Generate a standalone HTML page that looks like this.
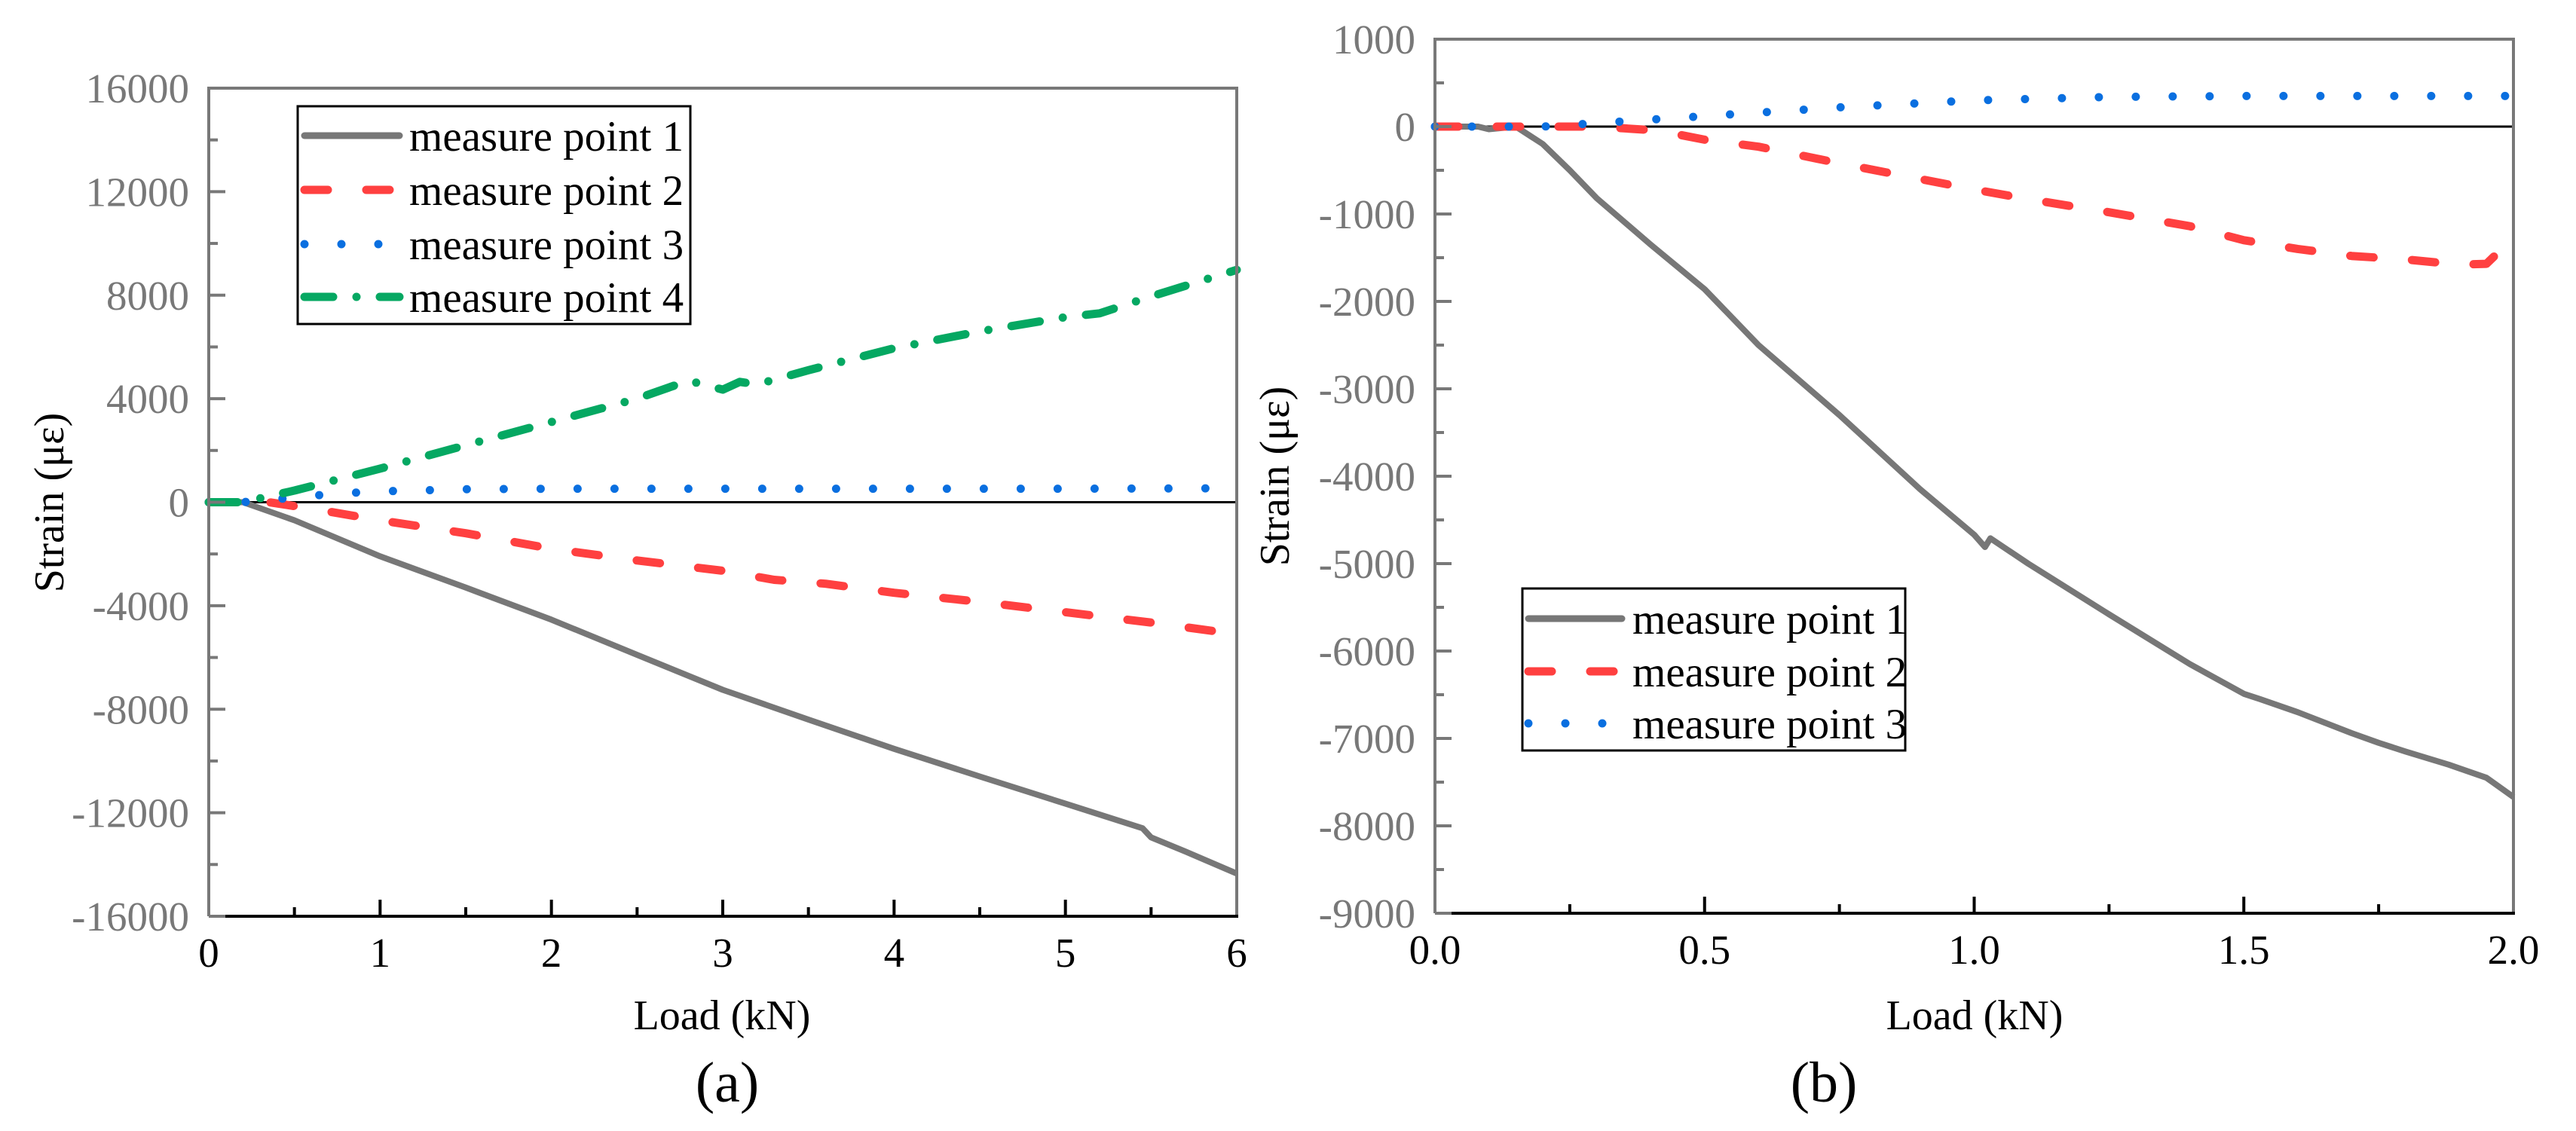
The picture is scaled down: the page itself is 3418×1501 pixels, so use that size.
<!DOCTYPE html>
<html><head><meta charset="utf-8"><style>
html,body{margin:0;padding:0;background:#fff;}
svg{display:block;}
svg text{font-family:"Liberation Serif","DejaVu Serif",serif;}
</style></head><body>
<svg id="chart" width="3418" height="1501" viewBox="0 0 3418 1501" font-family="'Liberation Serif', 'DejaVu Serif', serif" xmlns="http://www.w3.org/2000/svg"></svg>
<script>
// Panel (a) data
const aTicksX = [0,1,2,3,4,5,6];
const aTicksY = [16000,12000,8000,4000,0,-4000,-8000,-12000,-16000];
const aS1x = [0,0.2,0.5,1,1.5,2,2.5,3,3.5,4,4.5,5,5.45,5.5,5.7,6];
const aS1y = [0,0,-700,-2090,-3300,-4540,-5900,-7250,-8400,-9530,-10600,-11650,-12600,-12950,-13500,-14350];
const aS2x = [0,0.35,0.6,1,1.5,2,2.5,3,3.3,3.6,4,4.5,5,5.5,6];
const aS2y = [0,0,-250,-700,-1200,-1800,-2250,-2650,-3000,-3150,-3500,-3850,-4250,-4650,-5100];
const aS3x = [0,0.2,0.4,0.6,0.8,1,1.5,2,3,4,5,6];
const aS3y = [0,0,120,250,350,420,500,520,520,520,520,540];
const aS4x = [0,0.2,0.5,1,1.5,2,2.5,2.8,3,3.1,3.2,3.5,4,4.5,5,5.2,5.5,6];
const aS4y = [0,0,450,1300,2200,3100,4000,4700,4350,4650,4550,5100,5950,6600,7150,7300,7950,8980];
// Panel (b) data
const bTicksX = [0,0.5,1,1.5,2];
const bTickLabelsX = ["0.0","0.5","1.0","1.5","2.0"];
const bTicksY = [1000,0,-1000,-2000,-3000,-4000,-5000,-6000,-7000,-8000,-9000];
const bS1x = [0,0.08,0.1,0.15,0.2,0.25,0.3,0.4,0.5,0.6,0.75,0.9,1.0,1.02,1.03,1.1,1.25,1.4,1.5,1.53,1.6,1.7,1.75,1.8,1.88,1.95,2.0];
const bS1y = [0,0,-30,0,-200,-500,-820,-1350,-1860,-2500,-3300,-4150,-4670,-4810,-4710,-5000,-5580,-6150,-6490,-6550,-6700,-6940,-7050,-7150,-7300,-7450,-7670];
const bS2x = [0,0.3,0.35,0.4,0.45,0.5,0.6,0.75,0.9,1.0,1.1,1.25,1.4,1.5,1.6,1.7,1.8,1.9,1.95,1.97,2.0];
const bS2y = [0,0,-20,-40,-90,-150,-230,-420,-600,-720,-830,-980,-1140,-1300,-1400,-1480,-1520,-1580,-1570,-1450,-1420];
const bS3x = [0,0.2,0.3,0.5,0.75,1.0,1.25,1.5,2.0];
const bS3y = [0,0,40,120,220,300,340,350,350];

const NS = "http://www.w3.org/2000/svg";
const FONT = "'Liberation Serif', 'DejaVu Serif', serif";
const svg = document.getElementById('chart');
function el(tag, attrs, parent, text){
  const e = document.createElementNS(NS, tag);
  for (const k in attrs) e.setAttribute(k, attrs[k]);
  if (tag === 'text') e.setAttribute('font-family', FONT);
  if (text !== undefined) e.textContent = text;
  (parent || svg).appendChild(e);
  return e;
}
const GRAY = "#787878";
const styles = {
  s1:{stroke:"#777777", w:8, dash:null},
  s2:{stroke:"#ff4040", w:11, dash:"31 51"},
  s3:{stroke:"#0a6fe0", w:11, dash:"0 49"},
  s4:{stroke:"#05a862", w:11, dash:"38 31 0 31"}
};

function panel(cfg){
  const g = el('g', {});
  
  
  const sx = v => cfg.x0 + (v - cfg.xmin) / (cfg.xmax - cfg.xmin) * (cfg.x1 - cfg.x0);
  const sy = v => cfg.y1 - (v - cfg.ymin) / (cfg.ymax - cfg.ymin) * (cfg.y1 - cfg.y0);
  const z = el('line', {x1:cfg.x0, x2:cfg.x1, y1:sy(0), y2:sy(0), stroke:"#000", 'stroke-width':3}, g);
  
  
  cfg.series.forEach((s, i) => {
    const st = styles[s.style];
    const d = s.x.map((v, j) => (j ? 'L' : 'M') + sx(v).toFixed(1) + ',' + sy(s.y[j]).toFixed(1)).join('');
    const p = el('path', {d, fill:'none', stroke:st.stroke, 'stroke-width':st.w, 'stroke-linecap': st.dash ? 'round' : 'butt', 'stroke-linejoin':'round'}, g);
    if (st.dash) p.setAttribute('stroke-dasharray', st.dash);
    
    
  });
  const fr = el('path', {d:`M${cfg.x0},${cfg.y1}L${cfg.x0},${cfg.y0}L${cfg.x1},${cfg.y0}L${cfg.x1},${cfg.y1}`, fill:'none', stroke:GRAY, 'stroke-width':4}, g);
  
  
  const xa = el('line', {x1:cfg.x0, x2:cfg.x1 + 2, y1:cfg.y1, y2:cfg.y1, stroke:'#000', 'stroke-width':4}, g);
  
  
  cfg.yTicks.forEach((v, i) => {
    const y = sy(v);
    el('line', {x1:cfg.x0, x2:cfg.x0 + 22, y1:y, y2:y, stroke:GRAY, 'stroke-width':4}, g);
    if (i < cfg.yTicks.length - 1) {
      const ym = sy(v - cfg.yMinorStep);
      el('line', {x1:cfg.x0, x2:cfg.x0 + 12, y1:ym, y2:ym, stroke:GRAY, 'stroke-width':4}, g);
    }
    const t = el('text', {x:cfg.x0 - 26, y:y + 19, 'text-anchor':'end', 'font-size':55, fill:GRAY}, g, String(v));
    
    
  });
  cfg.xTicks.forEach((v, i) => {
    const x = sx(v);
    if (i > 0 && i < cfg.xTicks.length - 1) el('line', {x1:x, x2:x, y1:cfg.y1, y2:cfg.y1 - 22, stroke:'#000', 'stroke-width':4}, g);
    if (i < cfg.xTicks.length - 1) {
      const xm = sx(v + cfg.xMinorStep);
      el('line', {x1:xm, x2:xm, y1:cfg.y1, y2:cfg.y1 - 12, stroke:'#000', 'stroke-width':4}, g);
    }
    const t = el('text', {x:x, y:cfg.y1 + 67, 'text-anchor':'middle', 'font-size':55, fill:'#000'}, g, cfg.xLabels[i]);
    
    
  });
  const xt = el('text', {x:cfg.xTitleX, y:1366, 'text-anchor':'middle', 'font-size':56}, g, 'Load (kN)');
  
  
  const yt = el('text', {x:0, y:0, 'text-anchor':'middle', 'font-size':56, transform:`translate(${cfg.yTitleX},${cfg.yTitleY}) rotate(-90)`}, g, 'Strain (με)');
  
  
  const cap = el('text', {x:cfg.capX, y:1462, 'text-anchor':'middle', 'font-size':76}, g, cfg.cap);
  
  
  const L = cfg.legend;
  const lg = el('g', {}, g);
  
  
  el('rect', {x:L.x, y:L.y, width:L.w, height:L.h, fill:'#fff', stroke:'#000', 'stroke-width':3}, lg);
  L.rows.forEach((ry, i) => {
    const st = styles[cfg.series[i].style];
    const row = el('g', {}, lg);
    
    
    const ln = el('line', {x1:L.lx0, x2:L.lx1, y1:ry, y2:ry, stroke:st.stroke, 'stroke-width':st.dash ? 11 : 9, 'stroke-linecap':'round'}, row);
    if (st.dash) ln.setAttribute('stroke-dasharray', st.dash);
    el('text', {x:L.tx, y:ry + 20, 'font-size':57}, row, 'measure point ' + (i + 1));
  });
}

panel({
  name:'panel-a', x0:277, x1:1641, y0:117, y1:1216, xmin:0, xmax:6, ymin:-16000, ymax:16000,
  xTicks:aTicksX, xLabels:aTicksX.map(String), xMinorStep:0.5, yTicks:aTicksY, yMinorStep:2000,
  xTitleX:958, yTitleX:84, yTitleY:667, capX:965, cap:'(a)',
  series:[{x:aS1x,y:aS1y,style:'s1'},{x:aS2x,y:aS2y,style:'s2'},{x:aS3x,y:aS3y,style:'s3'},{x:aS4x,y:aS4y,style:'s4'}],
  legend:{x:395, y:141, w:521, h:289, rows:[180,252,324,394], lx0:404, lx1:530, tx:543}
});
panel({
  name:'panel-b', x0:1904, x1:3335, y0:52, y1:1212, xmin:0, xmax:2, ymin:-9000, ymax:1000,
  xTicks:bTicksX, xLabels:bTickLabelsX, xMinorStep:0.25, yTicks:bTicksY, yMinorStep:500,
  xTitleX:2620, yTitleX:1710, yTitleY:632, capX:2420, cap:'(b)',
  series:[{x:bS1x,y:bS1y,style:'s1'},{x:bS2x,y:bS2y,style:'s2'},{x:bS3x,y:bS3y,style:'s3'}],
  legend:{x:2020, y:781, w:508, h:215, rows:[821,891,960], lx0:2028, lx1:2152, tx:2166}
});
</script>
</body></html>
